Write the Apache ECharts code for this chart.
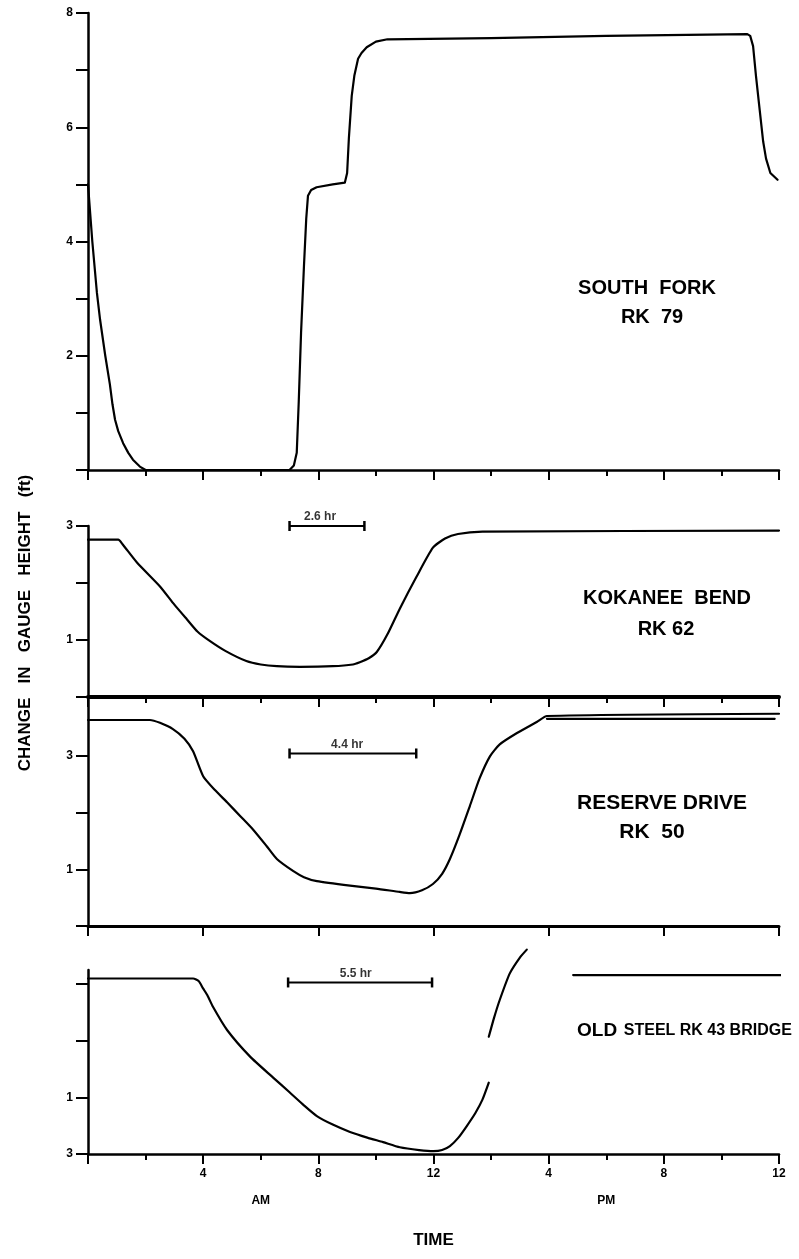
<!DOCTYPE html>
<html><head><meta charset="utf-8">
<script src="https://cdn.jsdelivr.net/npm/echarts@6/dist/echarts.min.js"></script>
<style>html,body{margin:0;padding:0;background:#fff}#c{width:799px;height:1259px}</style>
</head><body><div id="c"></div>
<script>
// ---- axis ticks / labels ----
const hourTicks = [0, 4, 8, 12, 16, 20, 24];
const hourTickLabels = ['', '4', '8', '12', '4', '8', '12'];
const periodTimes = [6, 18];
const periodLabels = ['AM', 'PM'];

// ---- South Fork RK 79 ----
const southForkTime = [0, 0.15, 0.31, 0.42, 0.6, 0.76, 0.85, 0.94, 1.05, 1.22, 1.4, 1.56, 1.8, 2.0, 7.0, 7.15, 7.25, 7.32, 7.4, 7.5, 7.58, 7.64, 7.75, 7.94, 8.5, 8.92, 9.0, 9.06, 9.16, 9.25, 9.38, 9.5, 9.68, 10.0, 10.4, 14, 18, 22.9, 23.0, 23.1, 23.2, 23.33, 23.45, 23.55, 23.7, 23.95];
const southForkHeight = [5.0, 4.0, 3.1, 2.63, 2.0, 1.5, 1.15, 0.88, 0.68, 0.47, 0.3, 0.18, 0.06, 0.0, 0.0, 0.08, 0.3, 1.2, 2.4, 3.56, 4.4, 4.8, 4.9, 4.95, 5.0, 5.03, 5.2, 5.8, 6.55, 6.9, 7.2, 7.3, 7.4, 7.5, 7.54, 7.56, 7.6, 7.63, 7.6, 7.42, 6.9, 6.3, 5.75, 5.45, 5.2, 5.08];

// ---- Kokanee Bend RK 62 ----
const kokaneeTime = [0, 1.05, 1.2, 1.7, 2.5, 3.0, 3.44, 3.8, 4.24, 4.8, 5.5, 6.0, 6.56, 7.36, 8.5, 9.2, 9.44, 9.75, 10.03, 10.4, 10.83, 11.4, 11.98, 12.4, 12.85, 13.7, 24];
const kokaneeHeight = [2.76, 2.76, 2.68, 2.36, 1.94, 1.62, 1.36, 1.15, 0.98, 0.8, 0.63, 0.57, 0.54, 0.53, 0.54, 0.57, 0.61, 0.68, 0.79, 1.1, 1.55, 2.1, 2.62, 2.78, 2.86, 2.9, 2.92];

// ---- Reserve Drive RK 50 ----
const reserveTime = [0, 2.15, 2.5, 2.95, 3.35, 3.65, 4.0, 4.4, 4.83, 5.3, 5.73, 6.2, 6.56, 7.12, 7.5, 7.95, 9.1, 10.0, 10.83, 11.18, 11.6, 11.98, 12.3, 12.57, 12.9, 13.26, 13.6, 13.96, 14.3, 14.9, 15.6, 15.94, 24];
const reserveHeight = [3.63, 3.63, 3.58, 3.47, 3.3, 3.08, 2.64, 2.4, 2.18, 1.93, 1.7, 1.41, 1.18, 0.97, 0.86, 0.79, 0.71, 0.66, 0.6, 0.58, 0.63, 0.74, 0.92, 1.18, 1.6, 2.11, 2.6, 2.99, 3.2, 3.4, 3.6, 3.7, 3.74];
const reserveTrace2Time = [15.94, 23.85];
const reserveTrace2Height = [3.65, 3.65];

// ---- Old Steel Bridge RK 43 (three drawn pieces) ----
const oldSteelTimeA = [0, 3.65, 3.85, 3.99, 4.15, 4.34, 4.83, 5.63, 6.43, 7.0, 7.5, 7.95, 8.5, 9.1, 9.7, 10.25, 10.83, 11.5, 12.0, 12.3, 12.57, 12.85, 13.15, 13.45, 13.7, 13.92];
const oldSteelHeightA = [3.1, 3.1, 3.05, 2.93, 2.8, 2.6, 2.19, 1.72, 1.35, 1.09, 0.86, 0.67, 0.52, 0.39, 0.29, 0.21, 0.12, 0.07, 0.05, 0.07, 0.14, 0.28, 0.49, 0.72, 0.96, 1.26];
const oldSteelTimeB = [13.92, 14.1, 14.3, 14.65, 15.0, 15.24];
const oldSteelHeightB = [2.07, 2.4, 2.72, 3.19, 3.47, 3.61];
const oldSteelTimeC = [16.85, 24.1];
const oldSteelHeightC = [3.16, 3.16];

// ---- lag brackets ----
const bracketStart = [7.0, 7.0, 6.95];
const bracketEnd = [9.6, 11.4, 11.95];
const bracketLevel = [3.0, 3.04, 3.03];
const bracketLabelTime = [8.06, 9.0, 9.3];
const bracketText = ['2.6 hr', '4.4 hr', '5.5 hr'];

// ---- station names ----
const stationLine1 = ['SOUTH  FORK', 'KOKANEE  BEND', 'RESERVE DRIVE'];
const stationLine2 = ['RK  79', 'RK 62', 'RK  50'];

const zip = (a, b) => a.map((t, i) => [t, b[i]]);
const FONT = "'Liberation Sans', Arial, sans-serif";
const BLACK = '#000';

const grids = [
  { left: 88, top: 13, width: 691, height: 457 },
  { left: 88, top: 526, width: 691, height: 171 },
  { left: 88, top: 699, width: 691, height: 227 },
  { left: 88, top: 970, width: 691, height: 184 }
];

function xAxisFor(gi, opts) {
  return Object.assign({
    type: 'value', gridIndex: gi, min: 0, max: 24, interval: 4,
    axisLine: { show: true, onZero: false, lineStyle: { color: BLACK, width: 2.5 } },
    axisTick: { show: true, inside: false, length: 10, lineStyle: { color: BLACK, width: 2 } },
    minorTick: { show: true, splitNumber: 2, length: 6, lineStyle: { color: BLACK, width: 2 } },
    splitLine: { show: false }, minorSplitLine: { show: false },
    axisLabel: { show: false }
  }, opts || {});
}
function yAxisFor(gi, max, tickVals, labelMap) {
  return {
    type: 'value', gridIndex: gi, min: 0, max: max, interval: 1,
    axisLine: { show: true, onZero: false, lineStyle: { color: BLACK, width: 2.5 } },
    axisTick: { show: true, length: 12, customValues: tickVals, lineStyle: { color: BLACK, width: 2 } },
    splitLine: { show: false },
    axisLabel: {
      show: true, customValues: Object.keys(labelMap).map(Number), margin: 15,
      color: BLACK, fontFamily: FONT, fontWeight: 'bold', fontSize: 12,
      formatter: v => labelMap[v] !== undefined ? labelMap[v] : ''
    }
  };
}

const xAxes = [
  xAxisFor(0),
  xAxisFor(1, { axisLine: { show: true, onZero: false, lineStyle: { color: BLACK, width: 4 } } }),
  xAxisFor(2, { axisLine: { show: true, onZero: false, lineStyle: { color: BLACK, width: 3 } }, minorTick: { show: false } }),
  xAxisFor(3, {
    axisLabel: {
      show: true, margin: 14, color: BLACK, fontFamily: FONT, fontWeight: 'bold', fontSize: 12,
      formatter: v => { const i = hourTicks.indexOf(v); return i >= 0 ? hourTickLabels[i] : ''; }
    }
  }),
  {
    type: 'value', gridIndex: 3, min: 0, max: 24, position: 'bottom', offset: 33,
    axisLine: { show: false }, axisTick: { show: false }, splitLine: { show: false },
    axisLabel: {
      show: true, customValues: periodTimes, color: BLACK, fontFamily: FONT, fontWeight: 'bold', fontSize: 12,
      formatter: v => { const i = periodTimes.indexOf(v); return i >= 0 ? periodLabels[i] : ''; }
    },
    name: 'TIME', nameLocation: 'middle', nameGap: 45,
    nameTextStyle: { color: BLACK, fontFamily: FONT, fontWeight: 'bold', fontSize: 17 }
  }
];

const yAxes = [
  yAxisFor(0, 8, [0, 1, 2, 3, 4, 5, 6, 7, 8], { 2: '2', 4: '4', 6: '6', 8: '8' }),
  yAxisFor(1, 3, [0, 1, 2, 3], { 1: '1', 3: '3' }),
  yAxisFor(2, 4, [0, 1, 2, 3], { 1: '1', 3: '3' }),
  yAxisFor(3, 3.25, [0, 1, 2, 3], { 0: '3', 1: '1' })
];

function curve(name, gi, t, v, smooth) {
  return {
    name: name, type: 'line', xAxisIndex: gi, yAxisIndex: gi, data: zip(t, v),
    showSymbol: false, symbol: 'none', smooth: smooth, clip: false,
    lineStyle: { color: BLACK, width: 2.2, join: 'round', cap: 'round' }, silent: true, animation: false
  };
}

const gridOfBracket = [1, 2, 3];
const series = [
  curve('South Fork RK 79', 0, southForkTime, southForkHeight, false),
  curve('Kokanee Bend RK 62', 1, kokaneeTime, kokaneeHeight, 0.2),
  curve('Reserve Drive RK 50', 2, reserveTime, reserveHeight, 0.2),
  curve('Reserve Drive RK 50 (trace 2)', 2, reserveTrace2Time, reserveTrace2Height, false),
  curve('Old Steel Bridge RK 43', 3, oldSteelTimeA, oldSteelHeightA, 0.2),
  curve('Old Steel Bridge RK 43 b', 3, oldSteelTimeB, oldSteelHeightB, 0.2),
  curve('Old Steel Bridge RK 43 c', 3, oldSteelTimeC, oldSteelHeightC, false)
];
bracketText.forEach((txt, i) => {
  const gi = gridOfBracket[i];
  series.push({
    name: 'lag ' + txt, type: 'line', xAxisIndex: gi, yAxisIndex: gi,
    data: [[bracketStart[i], bracketLevel[i]], [bracketEnd[i], bracketLevel[i]]],
    symbol: 'rect', symbolSize: [2.5, 10], showSymbol: true, clip: false,
    itemStyle: { color: BLACK }, lineStyle: { color: BLACK, width: 2 }, animation: false, silent: true
  });
  series.push({
    name: 'lag label ' + txt, type: 'scatter', xAxisIndex: gi, yAxisIndex: gi,
    data: [[bracketLabelTime[i], bracketLevel[i]]], symbolSize: 0, clip: false,
    label: { show: true, position: 'top', distance: 3, formatter: txt, color: BLACK,
             fontFamily: FONT, fontWeight: 'bold', fontSize: 12 },
    animation: false, silent: true
  });
});

const stationPos = [[647, 288, 652, 317], [667, 598, 666, 629], [662, 803, 652, 832]];
const stationSize = [20, 20, 21];
const graphics = [];
stationLine1.forEach((s, i) => {
  const p = stationPos[i];
  const f = 'bold ' + stationSize[i] + 'px ' + FONT;
  graphics.push({ type: 'text', x: p[0], y: p[1], style: { text: s, fill: BLACK, font: f, align: 'center', verticalAlign: 'middle' } });
  graphics.push({ type: 'text', x: p[2], y: p[3], style: { text: stationLine2[i], fill: BLACK, font: f, align: 'center', verticalAlign: 'middle' } });
});
graphics.push({
  type: 'text', x: 577, y: 1031,
  style: {
    text: '{a|OLD}  {b|STEEL RK 43 BRIDGE}', align: 'left', verticalAlign: 'middle', fill: BLACK,
    rich: {
      a: { fontFamily: FONT, fontWeight: 'bold', fontSize: 19, fill: BLACK },
      b: { fontFamily: FONT, fontWeight: 'bold', fontSize: 16, fill: BLACK }
    }
  }
});
graphics.push({
  type: 'text', x: 25, y: 623, rotation: Math.PI / 2,
  style: { text: 'CHANGE   IN   GAUGE   HEIGHT   (ft)', fill: BLACK, font: 'bold 17px ' + FONT, align: 'center', verticalAlign: 'middle' }
});

const chart = echarts.init(document.getElementById('c'), null, { renderer: 'canvas' });
chart.setOption({
  backgroundColor: '#fff',
  animation: false,
  grid: grids,
  xAxis: xAxes,
  yAxis: yAxes,
  series: series,
  graphic: graphics
});
</script></body></html>
